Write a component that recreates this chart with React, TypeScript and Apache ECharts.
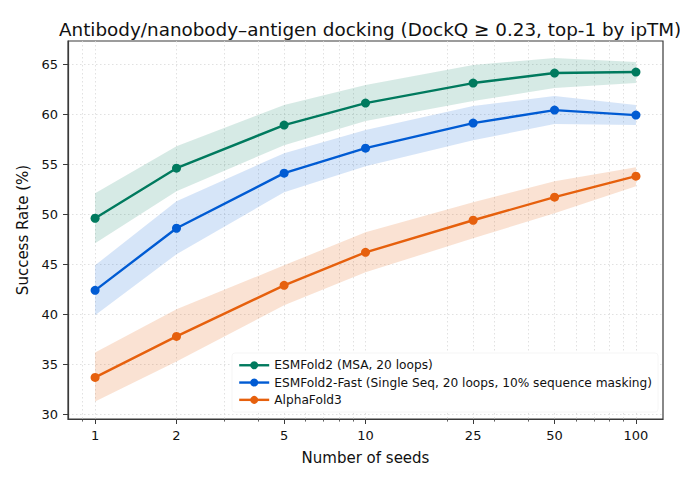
import React, { useEffect, useRef } from "react";
import * as echarts from "echarts";

const seeds = [1, 2, 5, 10, 25, 50, 100];
const xMajorTicks = [1, 2, 5, 10, 25, 50, 100];
const xMinorTicks = [0.9, 3, 4, 6, 7, 8, 9, 20, 30, 40, 60, 70, 80, 90];
const yTicks = [30, 35, 40, 45, 50, 55, 60, 65];

const seriesNames = [
  "ESMFold2 (MSA, 20 loops)",
  "ESMFold2-Fast (Single Seq, 20 loops, 10% sequence masking)",
  "AlphaFold3",
];
const seriesColors = ["#007a5e", "#005bd3", "#e6600d"];
const bandColors = ["rgba(0,122,94,0.16)", "rgba(0,91,211,0.16)", "rgba(230,96,13,0.18)"];

const esmMsa = [49.6, 54.6, 58.9, 61.1, 63.1, 64.1, 64.2];
const esmMsaLow = [47.1, 52.3, 56.9, 59.3, 61.3, 62.6, 63.1];
const esmMsaHigh = [52.1, 56.8, 60.9, 62.9, 64.9, 65.6, 65.2];

const esmFast = [42.4, 48.6, 54.1, 56.6, 59.1, 60.4, 59.9];
const esmFastLow = [39.9, 46.0, 52.2, 54.8, 57.4, 59.0, 58.9];
const esmFastHigh = [44.9, 51.3, 56.1, 58.4, 60.8, 61.8, 60.9];

const af3 = [33.7, 37.8, 42.9, 46.2, 49.4, 51.7, 53.8];
const af3Low = [31.3, 35.3, 40.9, 44.2, 47.6, 50.1, 52.8];
const af3High = [36.2, 40.5, 44.9, 48.2, 51.2, 53.3, 54.7];

const FONT = "DejaVu Sans";

export default function App() {
  const ref = useRef<HTMLDivElement>(null);
  useEffect(() => {
    if (!ref.current) return;
    const chart = echarts.init(ref.current, undefined, { renderer: "svg" });
    const groups = [
      { mid: esmMsa, low: esmMsaLow, high: esmMsaHigh },
      { mid: esmFast, low: esmFastLow, high: esmFastHigh },
      { mid: af3, low: af3Low, high: af3High },
    ];
    const series: any[] = [];
    groups.forEach((g, k) => {
      series.push({
        name: "band-" + k,
        type: "custom",
        data: seeds.map((s, i) => [s, g.low[i], g.high[i]]),
        encode: { x: 0, y: [1, 2] },
        silent: true,
        z: 1,
        renderItem: (params: any, api: any) => {
          if (params.dataIndex !== 0) return null;
          const top = seeds.map((s, i) => api.coord([s, g.high[i]]));
          const bottom = seeds.map((s, i) => api.coord([s, g.low[i]])).reverse();
          return {
            type: "polygon",
            shape: { points: [...top, ...bottom] },
            style: { fill: bandColors[k] },
          };
        },
      });
    });
    groups.forEach((g, k) => {
      series.push({
        name: seriesNames[k],
        type: "line",
        data: seeds.map((s, i) => [s, g.mid[i]]),
        symbol: "circle",
        symbolSize: 9,
        lineStyle: { width: 2.4, color: seriesColors[k] },
        itemStyle: { color: seriesColors[k] },
        z: 5,
      });
    });

    const xCommon = {
      type: "log",
      logBase: 10,
      min: 0.794,
      max: 125.9,
      gridIndex: 0,
      position: "bottom",
    };

    chart.setOption({
      animation: false,
      textStyle: { fontFamily: FONT },
      title: {
        text: "Antibody/nanobody\u2013antigen docking (DockQ \u2265 0.23, top-1 by ipTM)",
        left: 54,
        top: 15,
        textStyle: { fontFamily: FONT, fontSize: 18.35, fontWeight: "normal", color: "#111" },
      },
      grid: {
        left: 68,
        right: 17,
        top: 41,
        bottom: 64,
        show: true,
        borderColor: "#3a3a3a",
        borderWidth: 1.2,
        backgroundColor: "transparent",
      },
      legend: {
        data: seriesNames,
        orient: "vertical",
        left: 232,
        top: 353,
        padding: [5, 6, 5, 6],
        itemWidth: 30,
        itemHeight: 10,
        itemGap: 2.8,
        backgroundColor: "#ffffff",
        borderColor: "rgba(0,0,0,0.04)",
        borderWidth: 1,
        borderRadius: 3,
        lineStyle: { width: 2.4 },
        textStyle: { fontFamily: FONT, fontSize: 12.2, color: "#111", lineHeight: 14.5 },
      },
      xAxis: [
        {
          ...xCommon,
          axisLine: { show: true, lineStyle: { color: "#3a3a3a", width: 1.2 } },
          axisTick: {
            show: true,
            customValues: xMajorTicks,
            length: 5,
            lineStyle: { color: "#3a3a3a", width: 1 },
          },
          axisLabel: {
            show: true,
            customValues: xMajorTicks,
            margin: 10,
            fontSize: 13,
            color: "#111",
            fontFamily: FONT,
            formatter: (v: number) => String(Math.round(v)),
          },
          splitLine: { show: false },
          minorTick: { show: false },
          name: "Number of seeds",
          nameLocation: "middle",
          nameGap: 31,
          nameTextStyle: { fontFamily: FONT, fontSize: 15, color: "#111" },
        },
        {
          ...xCommon,
          axisLine: { show: false },
          axisTick: {
            show: true,
            customValues: [...xMinorTicks, ...xMajorTicks],
            length: 2.6,
            lineStyle: { color: "#3a3a3a", width: 0.8 },
          },
          axisLabel: { show: false },
          splitLine: {
            show: true,
            lineStyle: { color: "#d9d9d9", type: [1.5, 2.5], width: 0.8 },
          },
        },
      ],
      yAxis: {
        type: "value",
        min: 29.55,
        max: 67.3,
        axisLine: { show: true, lineStyle: { color: "#3a3a3a", width: 1.2 } },
        axisTick: {
          show: true,
          customValues: yTicks,
          length: 5,
          lineStyle: { color: "#3a3a3a", width: 1 },
        },
        axisLabel: {
          show: true,
          customValues: yTicks,
          margin: 10,
          fontSize: 13,
          color: "#111",
          fontFamily: FONT,
        },
        splitLine: {
          show: true,
          lineStyle: { color: "#d9d9d9", type: [1.5, 2.5], width: 0.8 },
        },
        name: "Success Rate (%)",
        nameLocation: "middle",
        nameGap: 34,
        nameTextStyle: { fontFamily: FONT, fontSize: 15, color: "#111" },
      },
      series,
    });
    return () => chart.dispose();
  }, []);
  return (
    <div
      ref={ref}
      style={{ position: "fixed", left: 0, top: 0, width: 680, height: 483, background: "#fff" }}
    />
  );
}
